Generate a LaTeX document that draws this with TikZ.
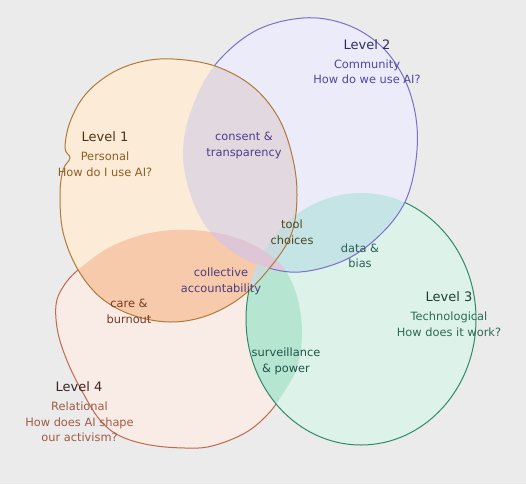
\documentclass[tikz,border=0pt]{standalone}
\usepackage{fontspec}
\setmainfont{DejaVu Sans}
\usetikzlibrary{positioning}

% Colours
\definecolor{bg}{HTML}{EBEBEB}
\definecolor{fillper}{HTML}{FCEBD7}
\definecolor{fillcom}{HTML}{ECEBFA}
\definecolor{filltech}{HTML}{DDF3EA}
\definecolor{fillrel}{HTML}{F9ECE6}
\definecolor{mixpc}{HTML}{E2D8DF}
\definecolor{mixpr}{HTML}{F6CAAA}
\definecolor{mixpt}{HTML}{C8DCDD}
\definecolor{mixpcr}{HTML}{DEC6D6}
\definecolor{mixct}{HTML}{C4E4E5}
\definecolor{mixcr}{HTML}{DDC8DD}
\definecolor{mixrt}{HTML}{B6E6D2}
\definecolor{lineper}{HTML}{B07A3A}
\definecolor{linecom}{HTML}{7A70C8}
\definecolor{linetech}{HTML}{2F8A68}
\definecolor{linerel}{HTML}{C0694E}
\definecolor{headper}{HTML}{4B3515}
\definecolor{headcom}{HTML}{2E2E5E}
\definecolor{headtech}{HTML}{1E3F33}
\definecolor{headrel}{HTML}{3E2520}
\definecolor{subper}{HTML}{8B5E25}
\definecolor{subcom}{HTML}{4D48A0}
\definecolor{subtech}{HTML}{2B6A55}
\definecolor{subrel}{HTML}{A35A44}
\definecolor{txtpc}{HTML}{4B3E8C}
\definecolor{txtpt}{HTML}{4D4520}
\definecolor{txtct}{HTML}{2C5C5C}
\definecolor{txtpr}{HTML}{4B3D7D}
\definecolor{txtrr}{HTML}{7A3A22}
\definecolor{txtrt}{HTML}{1D5446}

% Blob outlines (pixel units, y downwards)
\def\blobper{plot[smooth cycle, tension=0.6] coordinates {(173,59) (215,66) (252,86) (278,117) (292,155) (297,195) (291,235) (268,270) (240,298) (206,316) (170,322) (132,315) (100,297) (77,268) (63,232) (60,195) (63,170) (70,158) (65,148) (70,122) (85,95) (110,74) (140,62)}}
\def\blobcom{plot[smooth cycle, tension=0.6] coordinates {(303,18) (345,24) (380,45) (404,78) (416,118) (416,160) (405,202) (380,235) (345,260) (300,272) (262,266) (230,250) (205,225) (189,190) (183,150) (192,108) (215,65) (255,31)}}
\def\blobtech{(361,319) ellipse [x radius=115pt, y radius=126pt]}
\def\blobrel{plot[smooth cycle, tension=0.6] coordinates {(190,230) (230,236) (262,250) (285,270) (298,300) (302,335) (297,368) (284,392) (268,414) (245,433) (212,446) (185,448) (150,445) (120,436) (100,420) (83,393) (68,363) (58,333) (56,305) (63,287) (78,270) (110,247) (150,233)}}

\begin{document}
\begin{tikzpicture}[x=1pt, y=-1pt, inner sep=0pt,
    outline/.style={line width=1pt},
    head/.style={font=\fontsize{13}{15}\selectfont},
    sub/.style={font=\fontsize{11.4}{15.5}\selectfont, align=center}]
    \useasboundingbox (0,0) rectangle (526,484);
    \fill[bg] (0,0) rectangle (526,484);

    % Level 4, relational
    \fill[fillrel] \blobrel;
    \draw[outline, linerel] \blobrel;

    % Level 3, technological
    \fill[filltech] \blobtech;
    \begin{scope}
        \clip \blobtech;
        \fill[mixrt] \blobrel;
    \end{scope}
    \draw[outline, linetech] \blobtech;

    % Level 2, community
    \fill[fillcom] \blobcom;
    \begin{scope}
        \clip \blobcom;
        \fill[mixct] \blobtech;
        \fill[mixcr] \blobrel;
    \end{scope}
    \draw[outline, linecom] \blobcom;

    % Level 1, personal
    \fill[fillper] \blobper;
    \begin{scope}
        \clip \blobper;
        \fill[mixpc] \blobcom;
        \fill[mixpr] \blobrel;
        \fill[mixpt] \blobtech;
        \clip \blobcom;
        \fill[mixpcr] \blobrel;
    \end{scope}
    \draw[outline, lineper] \blobper;

    % Level headings
    \node[head, headper] (l1) at (105,137) {Level 1};
    \node[sub, subper] (l1sub) at (105,164) {Personal\\How do I use AI?};
    \node[head, headcom] (l2) at (367,45) {Level 2};
    \node[sub, subcom] (l2sub) at (367,72) {Community\\How do we use AI?};
    \node[head, headtech] (l3) at (449,297) {Level 3};
    \node[sub, subtech] (l3sub) at (449,324) {Technological\\How does it work?};
    \node[head, headrel] (l4) at (79,387) {Level 4};
    \node[sub, subrel] (l4sub) at (79.5,422) {Relational\\How does AI shape\\our activism?};

    % Overlap labels
    \foreach \nm/\px/\py/\col/\txt in {
        consent/244/145.5/txtpc/{consent \&\\transparency},
        tool/292/232/txtpt/{tool\\choices},
        data/360/255.5/txtct/{data \&\\bias},
        collective/221/281.5/txtpr/{collective\\accountability},
        care/129/311.5/txtrr/{care \&\\burnout},
        surveil/286/361.5/txtrt/{surveillance\\\& power}}
        \node[sub, text=\col] (\nm) at (\px,\py) {\txt};
\end{tikzpicture}
\end{document}
